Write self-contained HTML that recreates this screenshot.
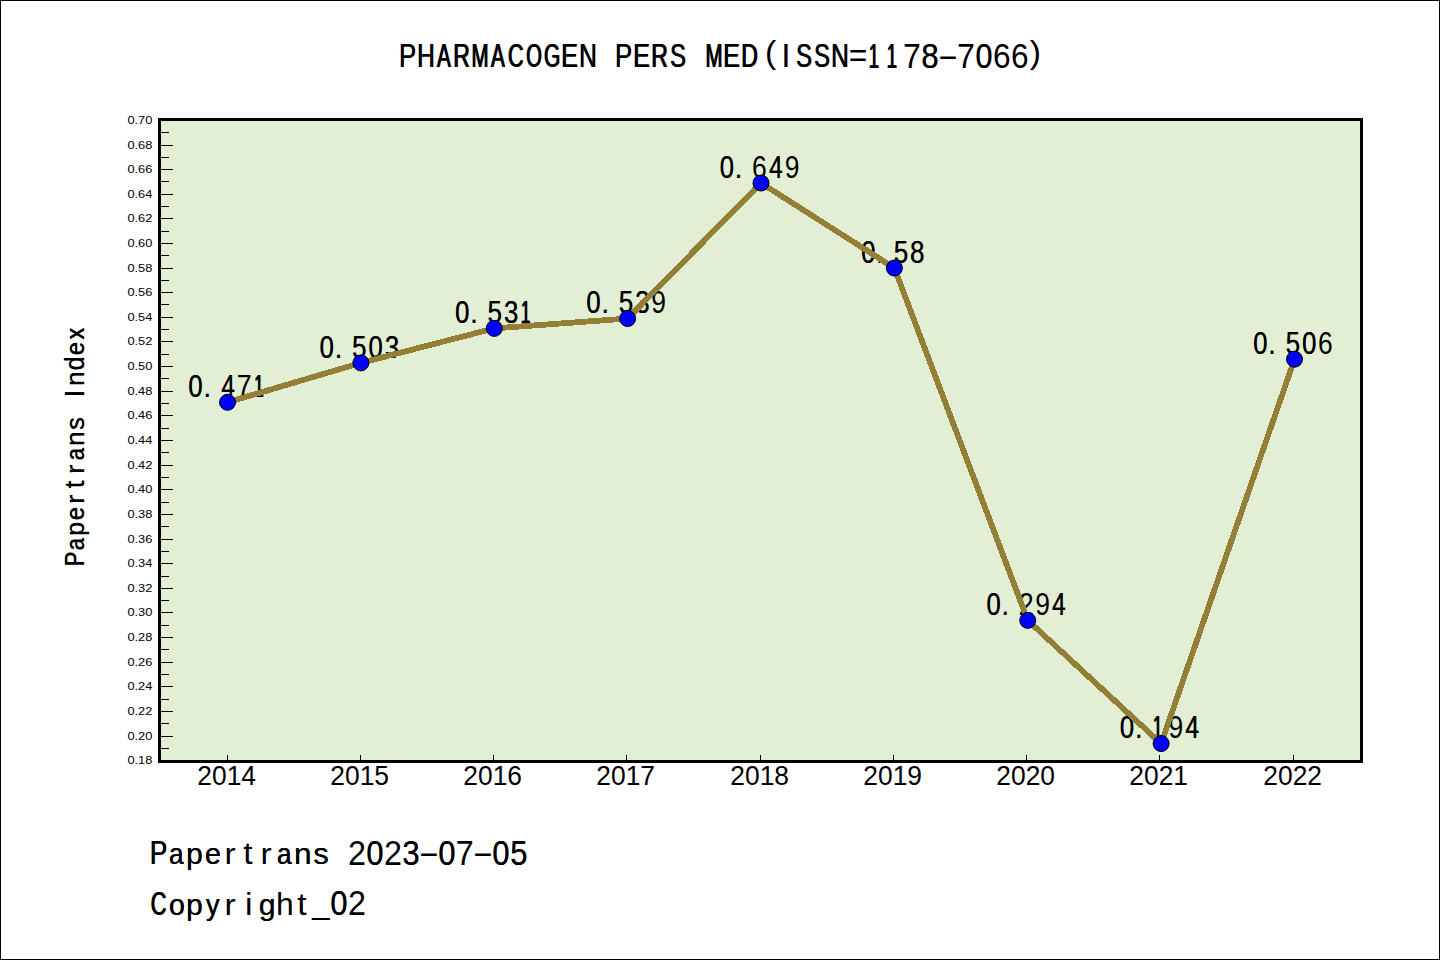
<!DOCTYPE html>
<html><head><meta charset="utf-8"><style>
html,body{margin:0;padding:0;background:#fff;}
body{width:1440px;height:960px;overflow:hidden;}
svg{display:block;}
.sans{font-family:"Liberation Sans",sans-serif;}
</style></head><body>
<svg width="1440" height="960" viewBox="0 0 1440 960">
<rect x="0.5" y="0.5" width="1439" height="959" fill="#fff" stroke="#000" stroke-width="1"/>

<rect x="159.5" y="119.5" width="1202" height="642" fill="#E2EFD4" stroke="#000" stroke-width="3"/>
<g fill="#000"><rect x="161" y="748" width="8" height="1"/><rect x="161" y="736" width="12" height="1"/><rect x="161" y="723" width="8" height="1"/><rect x="161" y="711" width="12" height="1"/><rect x="161" y="699" width="8" height="1"/><rect x="161" y="686" width="12" height="1"/><rect x="161" y="674" width="8" height="1"/><rect x="161" y="662" width="12" height="1"/><rect x="161" y="649" width="8" height="1"/><rect x="161" y="637" width="12" height="1"/><rect x="161" y="625" width="8" height="1"/><rect x="161" y="612" width="12" height="1"/><rect x="161" y="600" width="8" height="1"/><rect x="161" y="588" width="12" height="1"/><rect x="161" y="576" width="8" height="1"/><rect x="161" y="563" width="12" height="1"/><rect x="161" y="551" width="8" height="1"/><rect x="161" y="539" width="12" height="1"/><rect x="161" y="526" width="8" height="1"/><rect x="161" y="514" width="12" height="1"/><rect x="161" y="502" width="8" height="1"/><rect x="161" y="489" width="12" height="1"/><rect x="161" y="477" width="8" height="1"/><rect x="161" y="465" width="12" height="1"/><rect x="161" y="452" width="8" height="1"/><rect x="161" y="440" width="12" height="1"/><rect x="161" y="428" width="8" height="1"/><rect x="161" y="415" width="12" height="1"/><rect x="161" y="403" width="8" height="1"/><rect x="161" y="391" width="12" height="1"/><rect x="161" y="378" width="8" height="1"/><rect x="161" y="366" width="12" height="1"/><rect x="161" y="354" width="8" height="1"/><rect x="161" y="341" width="12" height="1"/><rect x="161" y="329" width="8" height="1"/><rect x="161" y="317" width="12" height="1"/><rect x="161" y="304" width="8" height="1"/><rect x="161" y="292" width="12" height="1"/><rect x="161" y="280" width="8" height="1"/><rect x="161" y="268" width="12" height="1"/><rect x="161" y="255" width="8" height="1"/><rect x="161" y="243" width="12" height="1"/><rect x="161" y="231" width="8" height="1"/><rect x="161" y="218" width="12" height="1"/><rect x="161" y="206" width="8" height="1"/><rect x="161" y="194" width="12" height="1"/><rect x="161" y="181" width="8" height="1"/><rect x="161" y="169" width="12" height="1"/><rect x="161" y="157" width="8" height="1"/><rect x="161" y="145" width="12" height="1"/><rect x="161" y="132" width="8" height="1"/></g>
<g fill="#000"><rect x="227" y="755" width="1" height="5"/><rect x="360" y="755" width="1" height="5"/><rect x="493" y="755" width="1" height="5"/><rect x="626" y="755" width="1" height="5"/><rect x="760" y="755" width="1" height="5"/><rect x="893" y="755" width="1" height="5"/><rect x="1026" y="755" width="1" height="5"/><rect x="1159" y="755" width="1" height="5"/><rect x="1293" y="755" width="1" height="5"/></g>
<g class="sans" font-size="11.2" fill="#000"><text x="152.4" y="764.40" text-anchor="end" textLength="25" lengthAdjust="spacingAndGlyphs">0.18</text><text x="152.4" y="740.40" text-anchor="end" textLength="25" lengthAdjust="spacingAndGlyphs">0.20</text><text x="152.4" y="715.40" text-anchor="end" textLength="25" lengthAdjust="spacingAndGlyphs">0.22</text><text x="152.4" y="690.40" text-anchor="end" textLength="25" lengthAdjust="spacingAndGlyphs">0.24</text><text x="152.4" y="666.40" text-anchor="end" textLength="25" lengthAdjust="spacingAndGlyphs">0.26</text><text x="152.4" y="641.40" text-anchor="end" textLength="25" lengthAdjust="spacingAndGlyphs">0.28</text><text x="152.4" y="616.40" text-anchor="end" textLength="25" lengthAdjust="spacingAndGlyphs">0.30</text><text x="152.4" y="592.40" text-anchor="end" textLength="25" lengthAdjust="spacingAndGlyphs">0.32</text><text x="152.4" y="567.40" text-anchor="end" textLength="25" lengthAdjust="spacingAndGlyphs">0.34</text><text x="152.4" y="543.40" text-anchor="end" textLength="25" lengthAdjust="spacingAndGlyphs">0.36</text><text x="152.4" y="518.40" text-anchor="end" textLength="25" lengthAdjust="spacingAndGlyphs">0.38</text><text x="152.4" y="493.40" text-anchor="end" textLength="25" lengthAdjust="spacingAndGlyphs">0.40</text><text x="152.4" y="469.40" text-anchor="end" textLength="25" lengthAdjust="spacingAndGlyphs">0.42</text><text x="152.4" y="444.40" text-anchor="end" textLength="25" lengthAdjust="spacingAndGlyphs">0.44</text><text x="152.4" y="419.40" text-anchor="end" textLength="25" lengthAdjust="spacingAndGlyphs">0.46</text><text x="152.4" y="395.40" text-anchor="end" textLength="25" lengthAdjust="spacingAndGlyphs">0.48</text><text x="152.4" y="370.40" text-anchor="end" textLength="25" lengthAdjust="spacingAndGlyphs">0.50</text><text x="152.4" y="345.40" text-anchor="end" textLength="25" lengthAdjust="spacingAndGlyphs">0.52</text><text x="152.4" y="321.40" text-anchor="end" textLength="25" lengthAdjust="spacingAndGlyphs">0.54</text><text x="152.4" y="296.40" text-anchor="end" textLength="25" lengthAdjust="spacingAndGlyphs">0.56</text><text x="152.4" y="272.40" text-anchor="end" textLength="25" lengthAdjust="spacingAndGlyphs">0.58</text><text x="152.4" y="247.40" text-anchor="end" textLength="25" lengthAdjust="spacingAndGlyphs">0.60</text><text x="152.4" y="222.40" text-anchor="end" textLength="25" lengthAdjust="spacingAndGlyphs">0.62</text><text x="152.4" y="198.40" text-anchor="end" textLength="25" lengthAdjust="spacingAndGlyphs">0.64</text><text x="152.4" y="173.40" text-anchor="end" textLength="25" lengthAdjust="spacingAndGlyphs">0.66</text><text x="152.4" y="149.40" text-anchor="end" textLength="25" lengthAdjust="spacingAndGlyphs">0.68</text><text x="152.4" y="124.40" text-anchor="end" textLength="25" lengthAdjust="spacingAndGlyphs">0.70</text></g>
<g class="sans" font-size="27.5" fill="#000"><text transform="matrix(0.96,0,0,1,226.70,785.3)" text-anchor="middle">2014</text><text transform="matrix(0.96,0,0,1,359.70,785.3)" text-anchor="middle">2015</text><text transform="matrix(0.96,0,0,1,492.70,785.3)" text-anchor="middle">2016</text><text transform="matrix(0.96,0,0,1,625.70,785.3)" text-anchor="middle">2017</text><text transform="matrix(0.96,0,0,1,759.70,785.3)" text-anchor="middle">2018</text><text transform="matrix(0.96,0,0,1,892.70,785.3)" text-anchor="middle">2019</text><text transform="matrix(0.96,0,0,1,1025.70,785.3)" text-anchor="middle">2020</text><text transform="matrix(0.96,0,0,1,1158.70,785.3)" text-anchor="middle">2021</text><text transform="matrix(0.96,0,0,1,1292.70,785.3)" text-anchor="middle">2022</text></g>
<g class="sans" font-size="30.6" fill="#000" ><text transform="matrix(0.8357,0,0,1.0,188.24,397.21)">0</text><text transform="matrix(0.8357,0,0,1.0,188.39,397.21)">0</text><text transform="matrix(1.0000,0,0,1.0,202.91,397.21)">.</text><text transform="matrix(0.7928,0,0,1.0,221.22,397.21)">4</text><text transform="matrix(0.7928,0,0,1.0,221.49,397.21)">4</text><text transform="matrix(0.8788,0,0,1.0,236.84,397.21)">7</text><text transform="matrix(0.5436,0,0,1.0,253.66,397.21)">1</text><text transform="matrix(0.5436,0,0,1.0,254.63,397.21)">1</text><text transform="matrix(0.8357,0,0,1.0,319.54,357.78)">0</text><text transform="matrix(0.8357,0,0,1.0,319.69,357.78)">0</text><text transform="matrix(1.0000,0,0,1.0,334.21,357.78)">.</text><text transform="matrix(0.8426,0,0,1.0,352.12,357.78)">5</text><text transform="matrix(0.8426,0,0,1.0,352.24,357.78)">5</text><text transform="matrix(0.8357,0,0,1.0,368.44,357.78)">0</text><text transform="matrix(0.8357,0,0,1.0,368.59,357.78)">0</text><text transform="matrix(0.8426,0,0,1.0,384.77,357.78)">3</text><text transform="matrix(0.8426,0,0,1.0,384.89,357.78)">3</text><text transform="matrix(0.8357,0,0,1.0,454.99,323.29)">0</text><text transform="matrix(0.8357,0,0,1.0,455.14,323.29)">0</text><text transform="matrix(1.0000,0,0,1.0,469.66,323.29)">.</text><text transform="matrix(0.8426,0,0,1.0,487.57,323.29)">5</text><text transform="matrix(0.8426,0,0,1.0,487.70,323.29)">5</text><text transform="matrix(0.8426,0,0,1.0,503.92,323.29)">3</text><text transform="matrix(0.8426,0,0,1.0,504.05,323.29)">3</text><text transform="matrix(0.5436,0,0,1.0,520.41,323.29)">1</text><text transform="matrix(0.5436,0,0,1.0,521.38,323.29)">1</text><text transform="matrix(0.8357,0,0,1.0,586.29,313.43)">0</text><text transform="matrix(0.8357,0,0,1.0,586.44,313.43)">0</text><text transform="matrix(1.0000,0,0,1.0,600.96,313.43)">.</text><text transform="matrix(0.8426,0,0,1.0,618.87,313.43)">5</text><text transform="matrix(0.8426,0,0,1.0,618.99,313.43)">5</text><text transform="matrix(0.8426,0,0,1.0,635.22,313.43)">3</text><text transform="matrix(0.8426,0,0,1.0,635.34,313.43)">3</text><text transform="matrix(0.8649,0,0,1.0,651.32,313.43)">9</text><text transform="matrix(0.8357,0,0,1.0,719.66,177.91)">0</text><text transform="matrix(0.8357,0,0,1.0,719.81,177.91)">0</text><text transform="matrix(1.0000,0,0,1.0,734.34,177.91)">.</text><text transform="matrix(0.8658,0,0,1.0,751.99,177.91)">6</text><text transform="matrix(0.7928,0,0,1.0,768.95,177.91)">4</text><text transform="matrix(0.7928,0,0,1.0,769.21,177.91)">4</text><text transform="matrix(0.8649,0,0,1.0,784.70,177.91)">9</text><text transform="matrix(0.8357,0,0,1.0,861.19,262.92)">0</text><text transform="matrix(0.8357,0,0,1.0,861.34,262.92)">0</text><text transform="matrix(1.0000,0,0,1.0,875.86,262.92)">.</text><text transform="matrix(0.8426,0,0,1.0,893.77,262.92)">5</text><text transform="matrix(0.8426,0,0,1.0,893.89,262.92)">5</text><text transform="matrix(0.8514,0,0,1.0,909.98,262.92)">8</text><text transform="matrix(0.8514,0,0,1.0,910.08,262.92)">8</text><text transform="matrix(0.8357,0,0,1.0,986.41,615.27)">0</text><text transform="matrix(0.8357,0,0,1.0,986.56,615.27)">0</text><text transform="matrix(1.0000,0,0,1.0,1001.09,615.27)">.</text><text transform="matrix(0.8770,0,0,1.0,1018.74,615.27)">2</text><text transform="matrix(0.8649,0,0,1.0,1035.15,615.27)">9</text><text transform="matrix(0.7928,0,0,1.0,1052.00,615.27)">4</text><text transform="matrix(0.7928,0,0,1.0,1052.26,615.27)">4</text><text transform="matrix(0.8357,0,0,1.0,1119.79,738.47)">0</text><text transform="matrix(0.8357,0,0,1.0,1119.94,738.47)">0</text><text transform="matrix(1.0000,0,0,1.0,1134.46,738.47)">.</text><text transform="matrix(0.5436,0,0,1.0,1152.61,738.47)">1</text><text transform="matrix(0.5436,0,0,1.0,1153.58,738.47)">1</text><text transform="matrix(0.8649,0,0,1.0,1168.52,738.47)">9</text><text transform="matrix(0.7928,0,0,1.0,1185.37,738.47)">4</text><text transform="matrix(0.7928,0,0,1.0,1185.64,738.47)">4</text><text transform="matrix(0.8357,0,0,1.0,1253.16,354.09)">0</text><text transform="matrix(0.8357,0,0,1.0,1253.31,354.09)">0</text><text transform="matrix(1.0000,0,0,1.0,1267.84,354.09)">.</text><text transform="matrix(0.8426,0,0,1.0,1285.74,354.09)">5</text><text transform="matrix(0.8426,0,0,1.0,1285.87,354.09)">5</text><text transform="matrix(0.8357,0,0,1.0,1302.06,354.09)">0</text><text transform="matrix(0.8357,0,0,1.0,1302.21,354.09)">0</text><text transform="matrix(0.8658,0,0,1.0,1318.09,354.09)">6</text></g>
<polyline points="227.50,402.31 360.88,362.88 494.25,328.39 627.62,318.53 761.00,183.01 894.38,268.02 1027.75,620.37 1161.12,743.57 1294.50,359.19" fill="none" stroke="#937F35" stroke-width="5.8" stroke-linejoin="round" shape-rendering="crispEdges"/>
<g fill="#0000FF" stroke="#000" stroke-width="1"><circle cx="227.50" cy="402.31" r="8"/><circle cx="360.88" cy="362.88" r="8"/><circle cx="494.25" cy="328.39" r="8"/><circle cx="627.62" cy="318.53" r="8"/><circle cx="761.00" cy="183.01" r="8"/><circle cx="894.38" cy="268.02" r="8"/><circle cx="1027.75" cy="620.37" r="8"/><circle cx="1161.12" cy="743.57" r="8"/><circle cx="1294.50" cy="359.19" r="8"/></g>
<g class="sans" font-size="33.6" fill="#000" >
<text transform="matrix(0.7650,0,0,1.0,398.73,67.20)">P</text><text transform="matrix(0.7650,0,0,1.0,399.37,67.20)">P</text><text transform="matrix(0.7289,0,0,1.0,416.78,67.20)">H</text><text transform="matrix(0.7289,0,0,1.0,417.52,67.20)">H</text><text transform="matrix(0.6140,0,0,1.0,436.62,67.20)">A</text><text transform="matrix(0.6140,0,0,1.0,437.62,67.20)">A</text><text transform="matrix(0.6857,0,0,1.0,452.83,67.20)">R</text><text transform="matrix(0.6857,0,0,1.0,453.71,67.20)">R</text><text transform="matrix(0.6086,0,0,1.0,470.98,67.20)">M</text><text transform="matrix(0.6086,0,0,1.0,471.98,67.20)">M</text><text transform="matrix(0.6140,0,0,1.0,490.62,67.20)">A</text><text transform="matrix(0.6140,0,0,1.0,491.62,67.20)">A</text><text transform="matrix(0.6429,0,0,1.0,507.56,67.20)">C</text><text transform="matrix(0.6429,0,0,1.0,508.56,67.20)">C</text><text transform="matrix(0.5964,0,0,1.0,525.71,67.20)">O</text><text transform="matrix(0.5964,0,0,1.0,526.71,67.20)">O</text><text transform="matrix(0.6237,0,0,1.0,543.61,67.20)">G</text><text transform="matrix(0.6237,0,0,1.0,544.61,67.20)">G</text><text transform="matrix(0.7512,0,0,1.0,560.75,67.20)">E</text><text transform="matrix(0.7512,0,0,1.0,561.43,67.20)">E</text><text transform="matrix(0.7289,0,0,1.0,578.78,67.20)">N</text><text transform="matrix(0.7289,0,0,1.0,579.52,67.20)">N</text><text transform="matrix(0.7650,0,0,1.0,614.73,67.20)">P</text><text transform="matrix(0.7650,0,0,1.0,615.37,67.20)">P</text><text transform="matrix(0.7512,0,0,1.0,632.75,67.20)">E</text><text transform="matrix(0.7512,0,0,1.0,633.43,67.20)">E</text><text transform="matrix(0.6857,0,0,1.0,650.83,67.20)">R</text><text transform="matrix(0.6857,0,0,1.0,651.71,67.20)">R</text><text transform="matrix(0.7072,0,0,1.0,669.67,67.20)">S</text><text transform="matrix(0.7072,0,0,1.0,670.49,67.20)">S</text><text transform="matrix(0.6086,0,0,1.0,704.98,67.20)">M</text><text transform="matrix(0.6086,0,0,1.0,705.98,67.20)">M</text><text transform="matrix(0.7512,0,0,1.0,722.75,67.20)">E</text><text transform="matrix(0.7512,0,0,1.0,723.43,67.20)">E</text><text transform="matrix(0.6874,0,0,1.0,740.83,67.20)">D</text><text transform="matrix(0.6874,0,0,1.0,741.70,67.20)">D</text><text transform="matrix(1.0000,0,0,0.906,765.06,63.37)">(</text><text transform="matrix(1.0000,0,0,1.0,781.33,67.20)">I</text><text transform="matrix(0.7072,0,0,1.0,795.67,67.20)">S</text><text transform="matrix(0.7072,0,0,1.0,796.49,67.20)">S</text><text transform="matrix(0.7072,0,0,1.0,813.67,67.20)">S</text><text transform="matrix(0.7072,0,0,1.0,814.49,67.20)">S</text><text transform="matrix(0.7289,0,0,1.0,830.78,67.20)">N</text><text transform="matrix(0.7289,0,0,1.0,831.52,67.20)">N</text><text transform="matrix(0.9483,0,0,1.0,848.70,67.20)">=</text><text transform="matrix(0.5467,0,0,1.045,868.34,67.60)">1</text><text transform="matrix(0.5467,0,0,1.045,869.34,67.60)">1</text><text transform="matrix(0.5467,0,0,1.045,886.34,67.60)">1</text><text transform="matrix(0.5467,0,0,1.045,887.34,67.60)">1</text><text transform="matrix(0.9545,0,0,1.045,903.07,67.60)">7</text><text transform="matrix(0.9248,0,0,1.045,921.29,67.60)">8</text><text transform="matrix(0.9248,0,0,1.045,921.43,67.60)">8</text><text transform="matrix(1.8871,0,0,1.0,937.44,67.20)">-</text><text transform="matrix(0.9545,0,0,1.045,957.07,67.60)">7</text><text transform="matrix(0.9077,0,0,1.045,975.42,67.60)">0</text><text transform="matrix(0.9077,0,0,1.045,975.62,67.60)">0</text><text transform="matrix(0.9404,0,0,1.045,993.11,67.60)">6</text><text transform="matrix(0.9404,0,0,1.045,1011.11,67.60)">6</text><text transform="matrix(1.0000,0,0,0.906,1029.75,63.37)">)</text>
<text transform="matrix(0.7719,0,0,1.0,149.53,864.40)">P</text><text transform="matrix(0.7719,0,0,1.0,150.17,864.40)">P</text><text transform="matrix(0.7787,0,0,0.9,168.73,864.40)">a</text><text transform="matrix(0.7787,0,0,0.9,169.35,864.40)">a</text><text transform="matrix(0.8895,0,0,0.9,186.09,864.40)">p</text><text transform="matrix(0.8895,0,0,0.9,186.37,864.40)">p</text><text transform="matrix(0.8524,0,0,0.9,204.74,864.40)">e</text><text transform="matrix(0.8524,0,0,0.9,205.13,864.40)">e</text><text transform="matrix(1.0000,0,0,0.9,224.43,864.40)">r</text><text transform="matrix(1.0000,0,0,0.96,243.14,864.40)">t</text><text transform="matrix(1.0000,0,0,0.9,260.43,864.40)">r</text><text transform="matrix(0.7787,0,0,0.9,276.73,864.40)">a</text><text transform="matrix(0.7787,0,0,0.9,277.35,864.40)">a</text><text transform="matrix(0.9416,0,0,0.9,294.00,864.40)">n</text><text transform="matrix(0.9416,0,0,0.9,294.12,864.40)">n</text><text transform="matrix(0.9174,0,0,0.9,313.19,864.40)">s</text><text transform="matrix(0.9174,0,0,0.9,313.38,864.40)">s</text><text transform="matrix(0.9611,0,0,1.045,347.90,864.80)">2</text><text transform="matrix(0.9159,0,0,1.045,366.22,864.80)">0</text><text transform="matrix(0.9159,0,0,1.045,366.42,864.80)">0</text><text transform="matrix(0.9611,0,0,1.045,383.90,864.80)">2</text><text transform="matrix(0.9235,0,0,1.045,402.25,864.80)">3</text><text transform="matrix(0.9235,0,0,1.045,402.42,864.80)">3</text><text transform="matrix(1.9041,0,0,1.0,418.24,864.40)">-</text><text transform="matrix(0.9159,0,0,1.045,438.22,864.80)">0</text><text transform="matrix(0.9159,0,0,1.045,438.42,864.80)">0</text><text transform="matrix(0.9631,0,0,1.045,455.87,864.80)">7</text><text transform="matrix(1.9041,0,0,1.0,472.24,864.40)">-</text><text transform="matrix(0.9159,0,0,1.045,492.22,864.80)">0</text><text transform="matrix(0.9159,0,0,1.045,492.42,864.80)">0</text><text transform="matrix(0.9235,0,0,1.045,510.19,864.80)">5</text><text transform="matrix(0.9235,0,0,1.045,510.36,864.80)">5</text>
<text transform="matrix(0.6487,0,0,1.0,150.36,914.60)">C</text><text transform="matrix(0.6487,0,0,1.0,151.36,914.60)">C</text><text transform="matrix(0.8472,0,0,0.9,168.75,914.60)">o</text><text transform="matrix(0.8472,0,0,0.9,169.16,914.60)">o</text><text transform="matrix(0.8895,0,0,0.9,186.09,914.60)">p</text><text transform="matrix(0.8895,0,0,0.9,186.37,914.60)">p</text><text transform="matrix(0.8071,0,0,0.9,205.81,914.60)">y</text><text transform="matrix(0.8071,0,0,0.9,206.34,914.60)">y</text><text transform="matrix(1.0000,0,0,0.9,224.43,914.60)">r</text><text transform="matrix(1.0000,0,0,0.96,245.11,914.60)">i</text><text transform="matrix(0.8895,0,0,0.9,258.76,914.60)">g</text><text transform="matrix(0.8895,0,0,0.9,259.03,914.60)">g</text><text transform="matrix(0.9481,0,0,0.96,275.95,914.60)">h</text><text transform="matrix(1.0000,0,0,0.96,297.14,914.60)">t</text><text transform="matrix(0.9094,0,0,1.0,312.33,913.30)">_</text><text transform="matrix(0.9094,0,0,1.0,312.55,913.30)">_</text><text transform="matrix(0.9159,0,0,1.045,330.22,915.00)">0</text><text transform="matrix(0.9159,0,0,1.045,330.42,915.00)">0</text><text transform="matrix(0.9611,0,0,1.045,347.90,915.00)">2</text>
</g>
<g class="sans" font-size="28.2" fill="#000" >
<text transform="matrix(0,-0.7596,1.0,0,83.70,566.47)">P</text><text transform="matrix(0,-0.7596,1.0,0,83.70,565.64)">P</text><text transform="matrix(0,-0.7663,0.9,0,83.70,550.47)">a</text><text transform="matrix(0,-0.7663,0.9,0,83.70,549.66)">a</text><text transform="matrix(0,-0.8753,0.9,0,83.70,536.01)">p</text><text transform="matrix(0,-0.8753,0.9,0,83.70,535.48)">p</text><text transform="matrix(0,-0.8388,0.9,0,83.70,520.47)">e</text><text transform="matrix(0,-0.8388,0.9,0,83.70,519.84)">e</text><text transform="matrix(0,-1.0000,0.9,0,83.70,504.10)">r</text><text transform="matrix(0,-1.0000,0.9,0,83.70,503.89)">r</text><text transform="matrix(0,-1.0000,0.96,0,83.70,488.48)">t</text><text transform="matrix(0,-1.0000,0.96,0,83.70,488.27)">t</text><text transform="matrix(0,-1.0000,0.9,0,83.70,474.10)">r</text><text transform="matrix(0,-1.0000,0.9,0,83.70,473.89)">r</text><text transform="matrix(0,-0.7663,0.9,0,83.70,460.47)">a</text><text transform="matrix(0,-0.7663,0.9,0,83.70,459.66)">a</text><text transform="matrix(0,-0.9266,0.9,0,83.70,446.08)">n</text><text transform="matrix(0,-0.9266,0.9,0,83.70,445.69)">n</text><text transform="matrix(0,-0.9027,0.9,0,83.70,430.09)">s</text><text transform="matrix(0,-0.9027,0.9,0,83.70,429.63)">s</text><text transform="matrix(0,-1.0000,1.0,0,83.70,397.62)">I</text><text transform="matrix(0,-1.0000,1.0,0,83.70,397.41)">I</text><text transform="matrix(0,-0.9266,0.9,0,83.70,386.08)">n</text><text transform="matrix(0,-0.9266,0.9,0,83.70,385.69)">n</text><text transform="matrix(0,-0.8753,0.96,0,83.70,370.45)">d</text><text transform="matrix(0,-0.8753,0.96,0,83.70,369.92)">d</text><text transform="matrix(0,-0.8388,0.9,0,83.70,355.47)">e</text><text transform="matrix(0,-0.8388,0.9,0,83.70,354.84)">e</text><text transform="matrix(0,-0.8234,0.9,0,83.70,339.74)">x</text><text transform="matrix(0,-0.8234,0.9,0,83.70,339.08)">x</text>
</g>
</svg></body></html>
